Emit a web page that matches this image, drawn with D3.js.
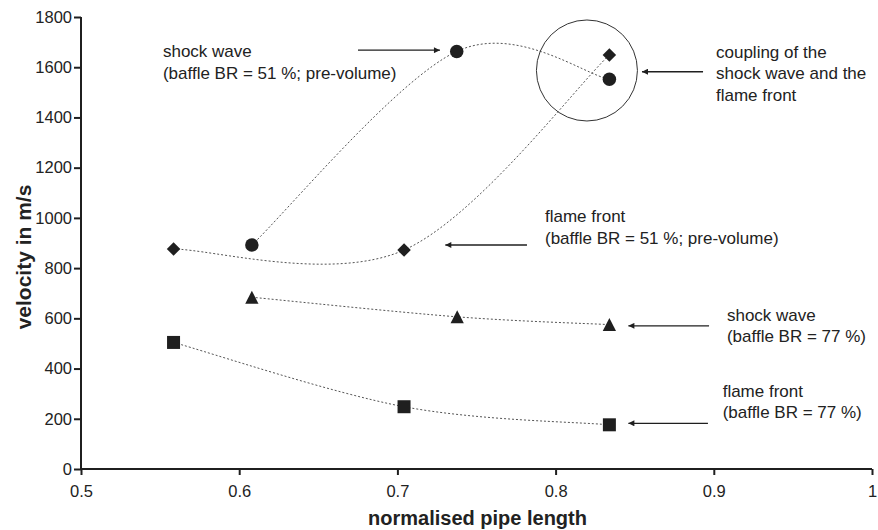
<!DOCTYPE html>
<html>
<head>
<meta charset="utf-8">
<script src="https://cdn.jsdelivr.net/npm/d3@7"></script>
<style>
  html, body { margin: 0; padding: 0; background: #fff; }
  svg { display: block; font-family: "Liberation Sans", Arial, sans-serif; }
</style>
</head>
<body>
<svg id="chart" width="878" height="530"></svg>
<script>
// Measured velocities along the pipe (normalised position, m/s)
const shockX51 = [0.608, 0.7375, 0.834];
const shockV51 = [892, 1663, 1552];
const flameX51 = [0.5585, 0.7042, 0.834];
const flameV51 = [876, 872, 1649];
const shockX77 = [0.608, 0.7378, 0.834];
const shockV77 = [684, 606, 575];
const flameX77 = [0.5585, 0.7042, 0.834];
const flameV77 = [504, 248, 176];

const xTicks = [0.5, 0.6, 0.7, 0.8, 0.9, 1];
const yTicks = [0, 200, 400, 600, 800, 1000, 1200, 1400, 1600, 1800];

const xTitle = "normalised pipe length";
const yTitle = "velocity in m/s";

// Callout texts with their anchor (data units) and arrow (from -> to, data units)
const notes = [
  { lines: ["shock wave", "(baffle BR = 51 %; pre-volume)"], x: 0.5518, y: 1639,
    arrow: [0.6751, 1668, 0.7269, 1668] },
  { lines: ["coupling of the", "shock wave and the", "flame front"], x: 0.9014, y: 1638,
    arrow: [0.8932, 1582, 0.8546, 1582] },
  { lines: ["flame front", "(baffle BR = 51 %; pre-volume)"], x: 0.7933, y: 982,
    arrow: [0.7819, 892, 0.7303, 892] },
  { lines: ["shock wave", "(baffle BR = 77 %)"], x: 0.9083, y: 590,
    arrow: [0.8970, 570, 0.8460, 570] },
  { lines: ["flame front", "(baffle BR = 77 %)"], x: 0.9056, y: 288,
    arrow: [0.8963, 182, 0.8460, 182] }
];
// Ring drawn round the coupling point
const ring = { x: 0.8198, y: 1587 };

const svg = d3.select("#chart");
const ink = "#1f1f1f";
const mLeft = 81, mRight = 872, mTop = 17, mBottom = 469;

const x = d3.scaleLinear().domain([0.5, 1]).range([mLeft, mRight]);
const y = d3.scaleLinear().domain([0, 1800]).range([mBottom, mTop]);

// Smooth line through the points (Bezier with 1/6 tangents, end points repeated)
function curveSmooth(context) {
  let pts = [];
  return {
    areaStart() {}, areaEnd() {},
    lineStart() { pts = []; },
    point(px, py) { pts.push([+px, +py]); },
    lineEnd() {
      const n = pts.length;
      if (!n) return;
      context.moveTo(pts[0][0], pts[0][1]);
      for (let i = 0; i < n - 1; i++) {
        const p0 = pts[Math.max(i - 1, 0)], p1 = pts[i], p2 = pts[i + 1], p3 = pts[Math.min(i + 2, n - 1)];
        context.bezierCurveTo(
          p1[0] + (p2[0] - p0[0]) / 6, p1[1] + (p2[1] - p0[1]) / 6,
          p2[0] - (p3[0] - p1[0]) / 6, p2[1] - (p3[1] - p1[1]) / 6,
          p2[0], p2[1]);
      }
    }
  };
}

const line = d3.line().x(d => x(d[0])).y(d => y(d[1])).curve(curveSmooth);

// Marker shapes (centred on their bounding box)
const sqShape = { draw(c, s) { const h = Math.sqrt(s) / 2; c.rect(-h, -h, 2 * h, 2 * h); } };
const triShape = { draw(c, s) { const h = Math.sqrt(s) / 2; c.moveTo(0, -h); c.lineTo(h * 1.02, h); c.lineTo(-h * 1.02, h); c.closePath(); } };
const diaShape = { draw(c, s) { const h = Math.sqrt(s) / 2; c.moveTo(0, -h); c.lineTo(h, 0); c.lineTo(0, h); c.lineTo(-h, 0); c.closePath(); } };
const cirShape = { draw(c, s) { const r = Math.sqrt(s) / 2; c.moveTo(r, 0); c.arc(0, 0, r, 0, 2 * Math.PI); } };

const series = [
  { xs: shockX51, vs: shockV51, shape: cirShape, size: 13.5 * 13.5 },
  { xs: flameX51, vs: flameV51, shape: diaShape, size: 13.5 * 13.5 },
  { xs: shockX77, vs: shockV77, shape: triShape, size: 13 * 13 },
  { xs: flameX77, vs: flameV77, shape: sqShape, size: 13 * 13 }
];

// Trend lines
const lines = svg.append("g");
series.forEach(s => {
  const pts = s.xs.map((v, i) => [v, s.vs[i]]);
  lines.append("path")
    .attr("d", line(pts))
    .attr("fill", "none")
    .attr("stroke", "#555")
    .attr("stroke-width", 1)
    .attr("stroke-dasharray", "2,2");
});

// Ring round the coupling zone
svg.append("circle")
  .attr("cx", x(ring.x)).attr("cy", y(ring.y)).attr("r", 50.5)
  .attr("fill", "none").attr("stroke", "#333").attr("stroke-width", 1);

// Markers
const marks = svg.append("g");
series.forEach(s => {
  s.xs.forEach((v, i) => {
    marks.append("path")
      .attr("transform", `translate(${x(v)},${y(s.vs[i])})`)
      .attr("d", d3.symbol().type(s.shape).size(s.size)())
      .attr("fill", ink);
  });
});

// Axes
const xAxis = svg.append("g")
  .attr("transform", `translate(0,${mBottom})`)
  .call(d3.axisBottom(x).tickValues(xTicks).tickFormat(d3.format("")).tickSize(6).tickPadding(10));
const yAxis = svg.append("g")
  .attr("transform", `translate(${mLeft},0)`)
  .call(d3.axisLeft(y).tickValues(yTicks).tickFormat(d3.format("d")).tickSize(7).tickPadding(2));

[xAxis, yAxis].forEach(g => {
  g.select(".domain").attr("stroke", ink).attr("stroke-width", 2);
  g.selectAll(".tick line").attr("stroke", ink).attr("stroke-width", 2);
  g.selectAll(".tick text").attr("fill", "#222").attr("font-size", 16.5)
    .attr("font-family", "'Liberation Sans', Arial, sans-serif");
});
xAxis.select(".domain").attr("d", `M${mLeft},0H${mRight}`);
yAxis.select(".domain").attr("d", `M0,${mTop}V${mBottom}`);

// Axis titles
svg.append("text")
  .attr("x", (mLeft + mRight) / 2 + 1).attr("y", 525)
  .attr("text-anchor", "middle")
  .attr("font-size", 20).attr("font-weight", "bold").attr("fill", "#222")
  .text(xTitle);
svg.append("text")
  .attr("transform", `translate(31,257) rotate(-90)`)
  .attr("text-anchor", "middle")
  .attr("font-size", 21).attr("font-weight", "bold").attr("fill", "#222")
  .text(yTitle);

// Arrowhead
svg.append("defs").append("marker")
  .attr("id", "head").attr("viewBox", "0 0 10 10")
  .attr("refX", 10).attr("refY", 5)
  .attr("markerWidth", 8).attr("markerHeight", 6)
  .attr("markerUnits", "userSpaceOnUse")
  .attr("orient", "auto")
  .append("path").attr("d", "M0,0L10,5L0,10Z").attr("fill", ink);

// Callouts
const callouts = svg.append("g");
notes.forEach(n => {
  const t = callouts.append("text")
    .attr("x", x(n.x)).attr("y", y(n.y))
    .attr("font-size", 17).attr("fill", "#222");
  n.lines.forEach((s, i) => {
    t.append("tspan").attr("x", x(n.x)).attr("dy", i === 0 ? 0 : 21.5).text(s);
  });
  callouts.append("line")
    .attr("x1", x(n.arrow[0])).attr("y1", y(n.arrow[1]))
    .attr("x2", x(n.arrow[2])).attr("y2", y(n.arrow[3]))
    .attr("stroke", ink).attr("stroke-width", 1.3)
    .attr("marker-end", "url(#head)");
});
</script>
</body>
</html>
